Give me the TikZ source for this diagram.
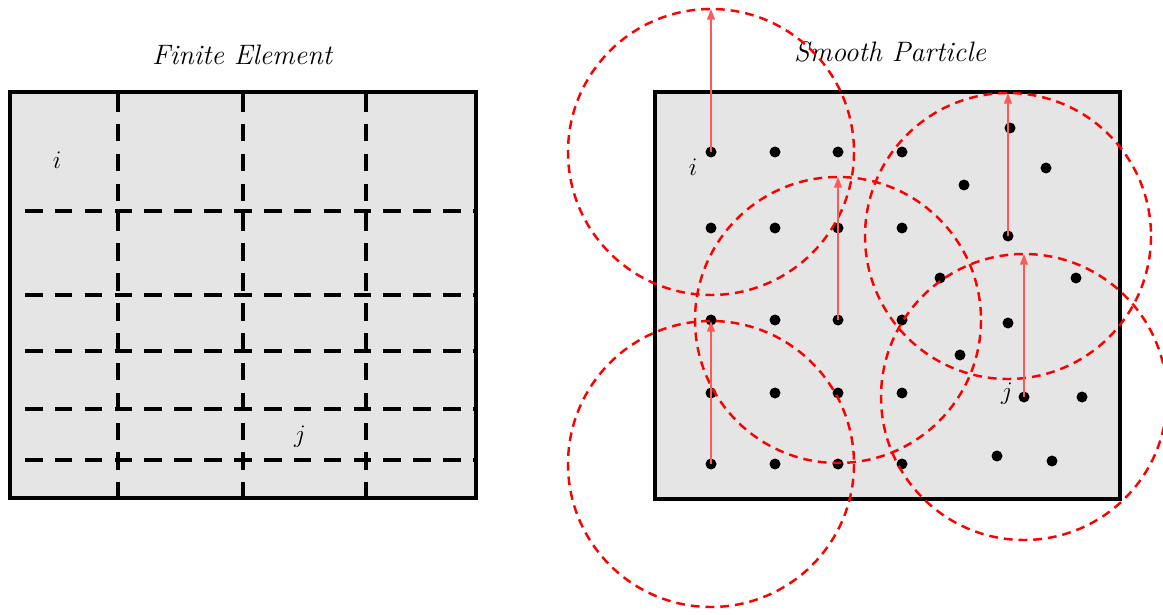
\documentclass[tikz,border=0pt]{standalone}
\usetikzlibrary{arrows.meta}
\begin{document}
\begin{tikzpicture}[x=0.02cm,y=-0.02cm]
\tikzset{
 regionbox/.style={fill=gray!20, draw=black, line width=2.3pt},
 gridline/.style={line width=2pt, dash pattern=on 10pt off 7pt},
 particle/.style={circle, fill=black, inner sep=0pt, minimum size=0.22cm},
 support/.style={draw=red, line width=1.4pt, dash pattern=on 5pt off 3.4pt},
 radiusarrow/.style={draw=red!65, line width=0.7pt, -{Triangle[length=6pt,width=4.5pt]}},
 titletext/.style={font=\fontsize{16}{19}\selectfont\itshape},
 lab/.style={font=\fontsize{15}{17}\selectfont}
}
\useasboundingbox (0,0) rectangle (1163,615);
% ---------- Finite element ----------
\node[titletext] (fetitle) at (242,55) {Finite Element};
\draw[regionbox] (10,92) rectangle (476,498);
\foreach \x in {118,243,366} \draw[gridline] (\x,94) -- (\x,496);
\foreach \y in {211,295,351,409,460} \draw[gridline] (25,\y) -- (475,\y);
\node[lab] (fei) at (57,160) {$i$};
\node[lab] (fej) at (300,437) {$j$};
% ---------- Smooth particle ----------
\node[titletext] (sptitle) at (890,52) {Smooth Particle};
\draw[regionbox] (655,92) rectangle (1120,499);
\foreach \x [count=\c] in {711,775,838,902}
  \foreach \y [count=\r] in {152,228,320,393,464}
    \node[particle] (g-\c-\r) at (\x,\y) {};
\foreach \x/\y [count=\k] in {1010/128,1046/168,964/185,1008/236,940/278,1076/278,1008/323,960/355,1024/397,1082/397,997/456,1052/461}
    \node[particle] (e\k) at (\x,\y) {};
\node[lab] (spi) at (693,167) {$i$};
\node[lab] (spj) at (1007,394) {$j$};
% support domains
\foreach \n in {g-1-1,g-3-3,e4,e9,g-1-5}{
  \draw[support] (\n) circle[radius=143];
  \coordinate (top-\n) at ([yshift=143*0.02cm]\n.center);
  \draw[radiusarrow] (\n.center) -- (top-\n);
}
\end{tikzpicture}
\end{document}
